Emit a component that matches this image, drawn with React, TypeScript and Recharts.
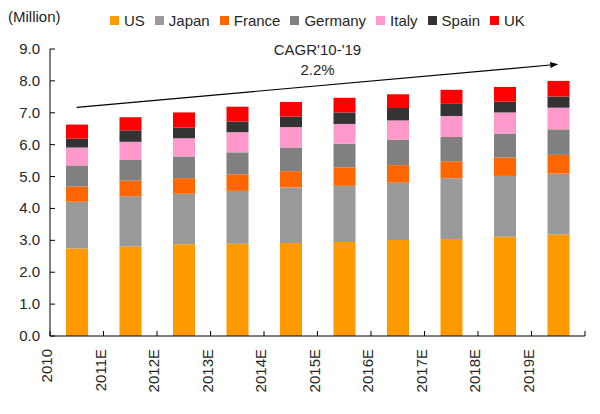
import React from 'react';
import { BarChart, Bar, XAxis, YAxis, Legend, ReferenceLine } from 'recharts';

const categories = ['2010', '2011E', '2012E', '2013E', '2014E', '2015E', '2016E', '2017E', '2018E', '2019E'];

const us = [2.74, 2.81, 2.88, 2.89, 2.92, 2.95, 3.01, 3.04, 3.11, 3.18];
const japan = [1.47, 1.57, 1.58, 1.66, 1.74, 1.76, 1.80, 1.91, 1.91, 1.91];
const france = [0.48, 0.49, 0.49, 0.52, 0.51, 0.58, 0.55, 0.53, 0.58, 0.59];
const germany = [0.66, 0.65, 0.68, 0.69, 0.74, 0.74, 0.80, 0.76, 0.75, 0.80];
const italy = [0.56, 0.57, 0.57, 0.63, 0.64, 0.62, 0.60, 0.66, 0.66, 0.68];
const spain = [0.28, 0.36, 0.34, 0.34, 0.33, 0.36, 0.39, 0.38, 0.34, 0.35];
const uk = [0.44, 0.41, 0.47, 0.46, 0.46, 0.46, 0.43, 0.44, 0.46, 0.49];

const yTicks = [0, 1, 2, 3, 4, 5, 6, 7, 8, 9];

// CAGR arrow end points (category, value)
const arrowFrom = { x: '2010', y: 7.17 };
const arrowTo = { x: '2019E', y: 8.52 };
const cagrLines = ["CAGR'10-'19", '2.2%'];

const series = [
    { key: 'US', values: us, color: '#FF9900' },
    { key: 'Japan', values: japan, color: '#999999' },
    { key: 'France', values: france, color: '#FF6600' },
    { key: 'Germany', values: germany, color: '#808080' },
    { key: 'Italy', values: italy, color: '#FF99CC' },
    { key: 'Spain', values: spain, color: '#333333' },
    { key: 'UK', values: uk, color: '#FF0000' },
];

const data = categories.map((name, i) => {
    const row: any = { name };
    series.forEach(s => { row[s.key] = s.values[i]; });
    return row;
});

const FONT = '"Liberation Sans", Arial, sans-serif';
const TEXT = '#262626';
const W = 600;
const H = 414;
const M = { top: 49, right: 15, left: 0, bottom: 0 };
const Y_W = 50;
const X_H = 78;
const HALF_BAND = (W - M.left - M.right - Y_W) / categories.length / 2;

const YTick = (props: any) => {
    const { x, y, payload } = props;
    return (
        <g>
            <line x1={x} y1={y} x2={x + 5} y2={y} stroke="#000" />
            <text x={x - 10} y={y} dy={5} textAnchor="end" fontSize={15} fontFamily={FONT} fill={TEXT}>
                {payload.value.toFixed(1)}
            </text>
        </g>
    );
};

// Excel style: labels sit on the category boundaries, not on the bars
const XTick = (props: any) => {
    const { x, y, payload, index } = props;
    const left = x - HALF_BAND;
    const last = index === categories.length - 1;
    return (
        <g>
            <line x1={left} y1={y} x2={left} y2={y - 5} stroke="#000" />
            {last && <line x1={x + HALF_BAND} y1={y} x2={x + HALF_BAND} y2={y - 5} stroke="#000" />}
            <text
                transform={`translate(${left + 2}, ${y + 13}) rotate(-90)`}
                textAnchor="end"
                fontSize={15}
                fontFamily={FONT}
                fill={TEXT}
            >
                {payload.value}
            </text>
        </g>
    );
};

const ArrowShape = (props: any) => {
    const { x1, y1, x2, y2 } = props;
    if ([x1, y1, x2, y2].some(v => typeof v !== 'number')) return null;
    const ang = Math.atan2(y2 - y1, x2 - x1);
    const len = 8, wid = 3;
    const bx = x2 - len * Math.cos(ang), by = y2 - len * Math.sin(ang);
    const px = -Math.sin(ang) * wid, py = Math.cos(ang) * wid;
    const mx = (x1 + x2) / 2, my = (y1 + y2) / 2;
    return (
        <g>
            <line x1={x1} y1={y1} x2={bx} y2={by} stroke="#000" strokeWidth={1.2} />
            <polygon points={`${x2},${y2} ${bx + px},${by + py} ${bx - px},${by - py}`} fill="#000" />
            <text x={mx} y={my - 31} textAnchor="middle" fontSize={15} fontFamily={FONT} fill={TEXT}>{cagrLines[0]}</text>
            <text x={mx} y={my - 11} textAnchor="middle" fontSize={15} fontFamily={FONT} fill={TEXT}>{cagrLines[1]}</text>
        </g>
    );
};

// keep the series order (recharts would sort the payload by name)
const LegendContent = () => (
    <div style={{ display: 'flex', alignItems: 'center', fontFamily: FONT, fontSize: 15, color: TEXT }}>
        {series.map(s => (
            <div key={s.key} style={{ display: 'flex', alignItems: 'center', marginRight: 10 }}>
                <div style={{ width: 9, height: 9, background: s.color, marginRight: 5 }} />
                <span>{s.key}</span>
            </div>
        ))}
    </div>
);

export default function App() {
    return (
        <div style={{ position: 'relative', width: W, height: H, background: '#fff' }}>
            <style>{'body { margin: 0; }'}</style>
            <div style={{ position: 'absolute', left: 8, top: 8, fontFamily: FONT, fontSize: 15, color: TEXT }}>
                (Million)
            </div>
            <BarChart width={W} height={H} data={data} margin={M} barSize={22}>
                <XAxis
                    dataKey="name"
                    height={X_H}
                    interval={0}
                    tickSize={0}
                    tickMargin={0}
                    tick={<XTick />}
                    axisLine={{ stroke: '#000' }}
                    tickLine={false}
                />
                <YAxis
                    width={Y_W}
                    domain={[0, 9]}
                    ticks={yTicks}
                    interval={0}
                    tickSize={0}
                    tickMargin={0}
                    tick={<YTick />}
                    axisLine={{ stroke: '#000' }}
                    tickLine={false}
                />
                <Legend
                    verticalAlign="middle"
                    align="center"
                    content={<LegendContent />}
                    wrapperStyle={{ top: 12, left: 110, width: 'auto', height: 'auto' }}
                />
                {series.map(s => (
                    <Bar key={s.key} dataKey={s.key} stackId="a" fill={s.color} isAnimationActive={false} />
                ))}
                <ReferenceLine
                    segment={[arrowFrom, arrowTo]}
                    ifOverflow="visible"
                    shape={<ArrowShape />}
                />
            </BarChart>
        </div>
    );
}
